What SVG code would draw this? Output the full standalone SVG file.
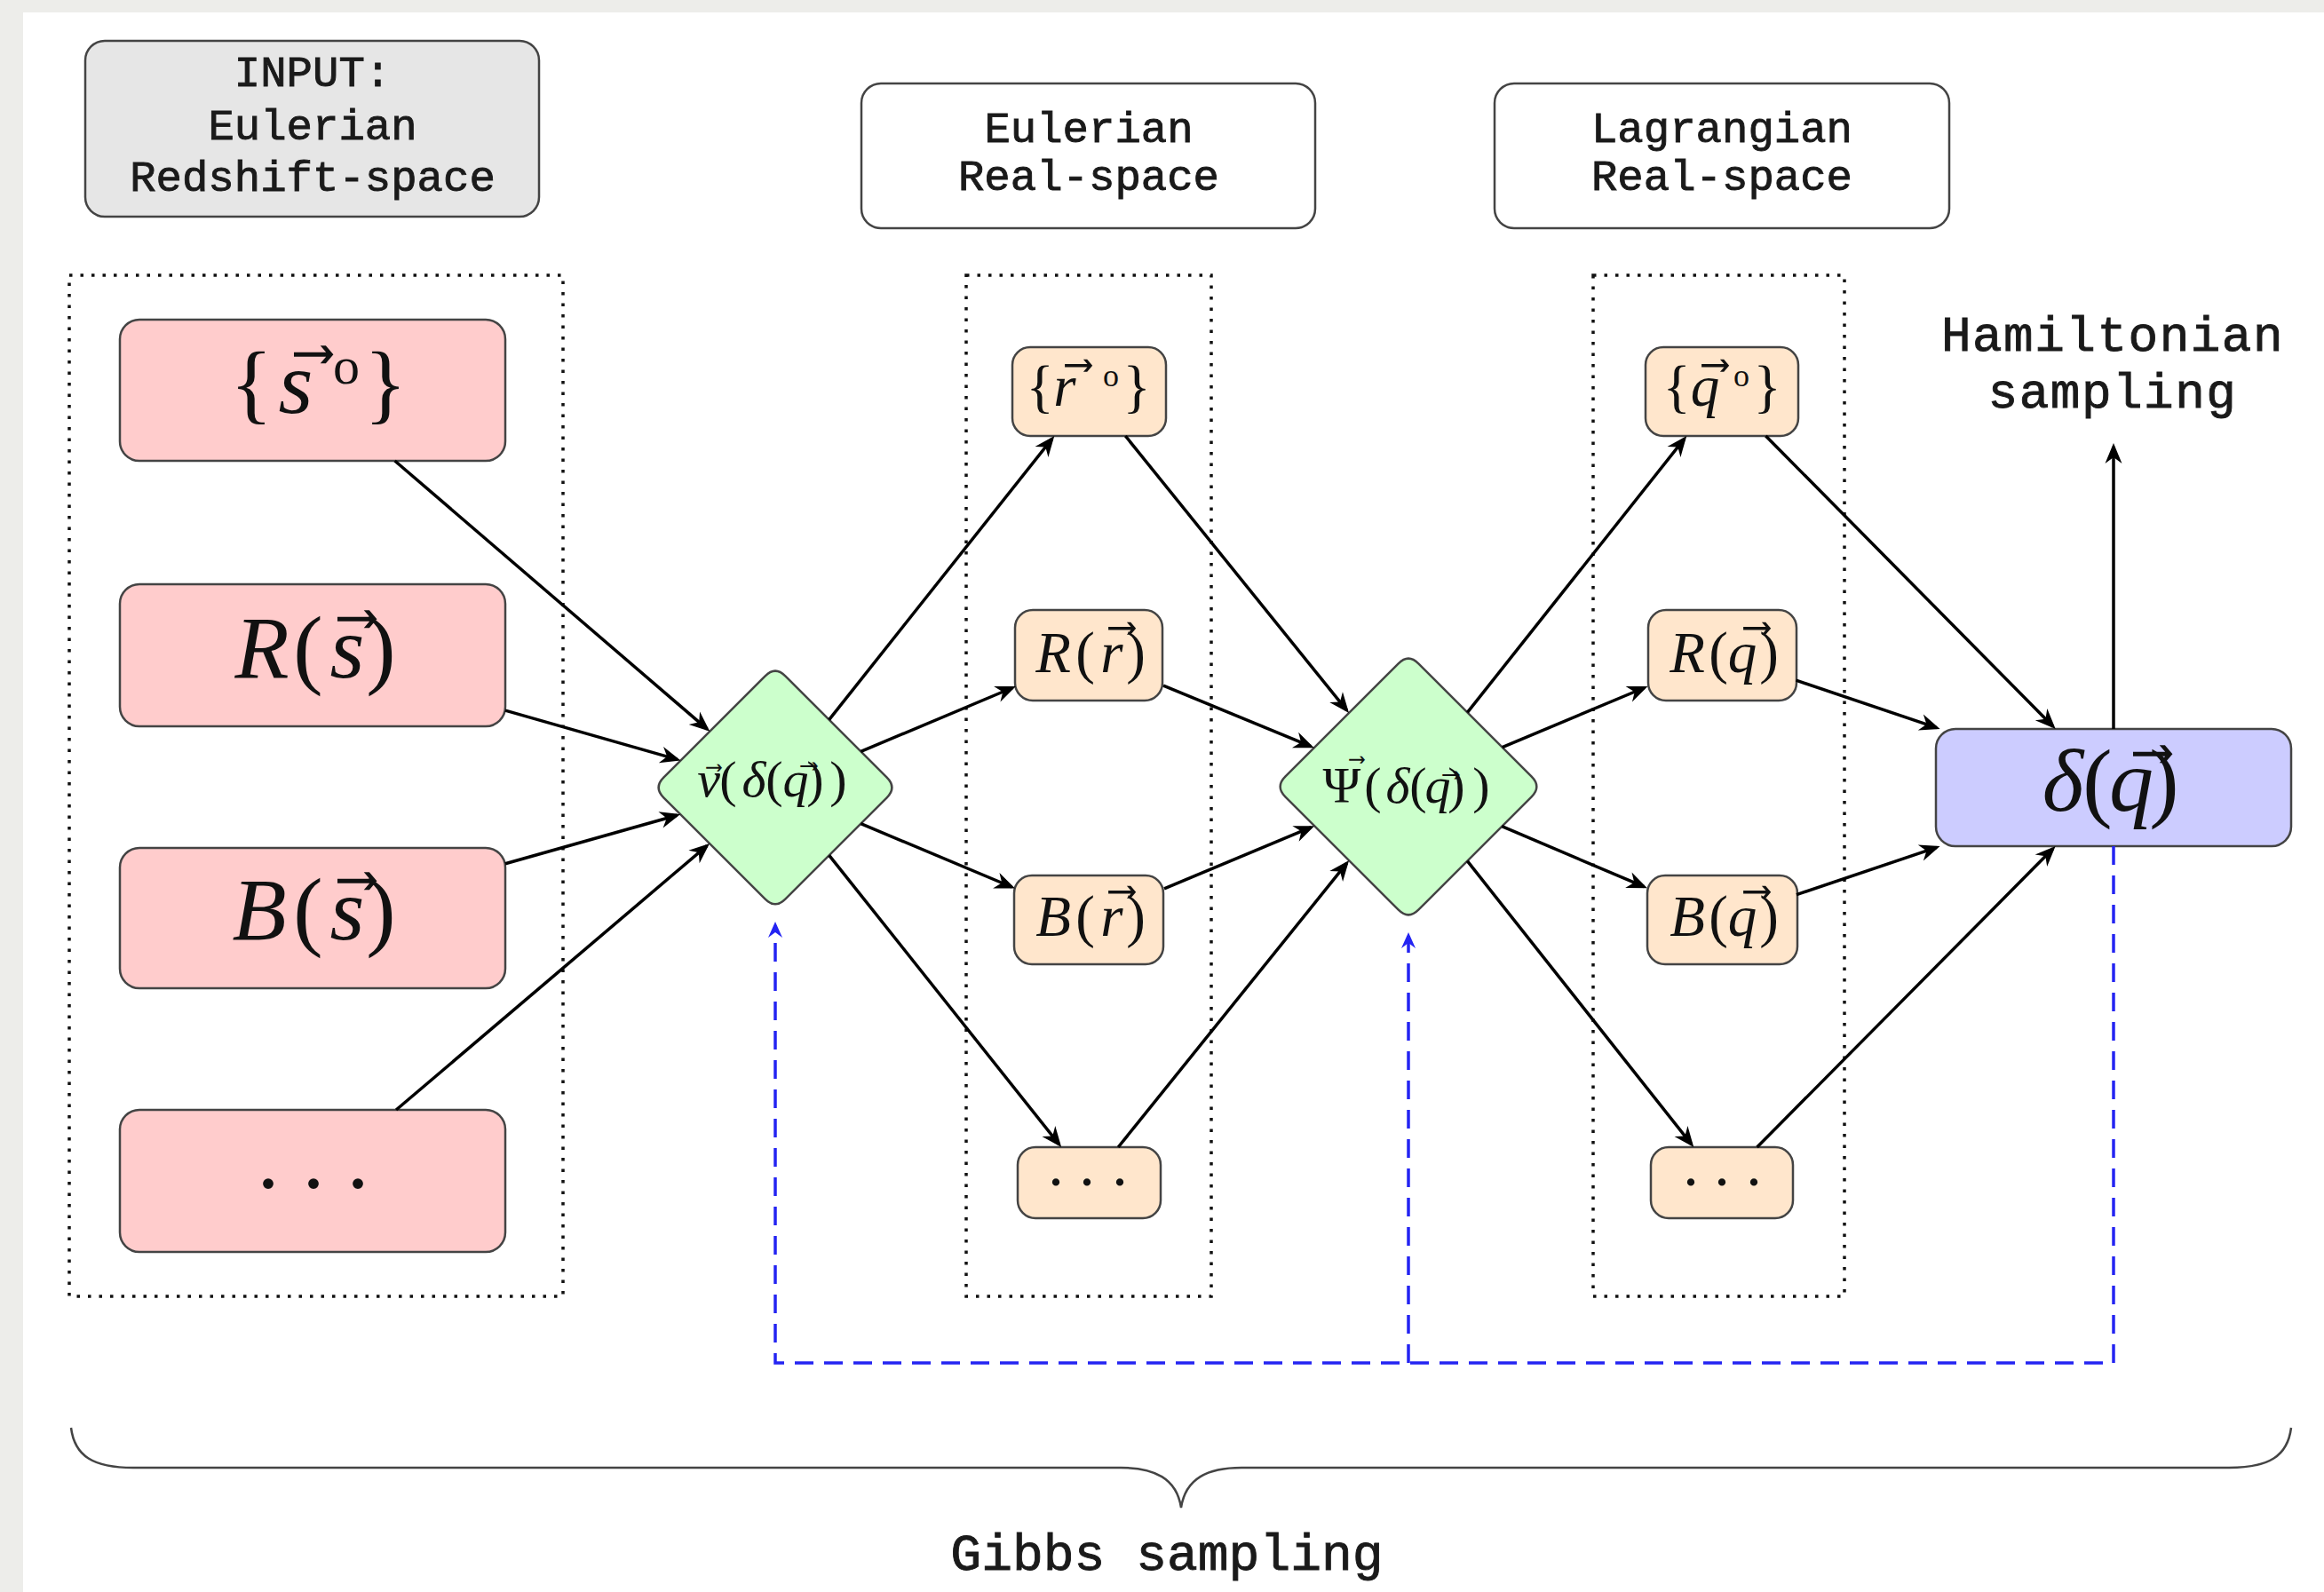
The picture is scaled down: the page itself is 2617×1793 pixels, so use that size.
<svg xmlns="http://www.w3.org/2000/svg" width="2617" height="1793" viewBox="0 0 2617 1793">
  <defs>
    <style>
      .tt { font-family: "Liberation Mono", "DejaVu Sans Mono", monospace; fill: #1a1a1a; stroke: #1a1a1a; stroke-width: 0.9; text-anchor: middle; }
      .m { font-family: "Liberation Serif", "DejaVu Serif", serif; fill: #111; text-anchor: middle; }
      .i { font-style: italic; }
      .acc { font-family: "DejaVu Sans", sans-serif; font-style: normal; }
      .box { stroke: #444; stroke-width: 2.5; }
      .red { fill: #ffcccc; }
      .org { fill: #ffe6cc; }
      .grn { fill: #ccffcc; }
      .blu { fill: #ccccff; }
      .gry { fill: #e6e6e6; }
      .wht { fill: #ffffff; }
      .frame { fill: none; stroke: #111; stroke-width: 3.5; stroke-dasharray: 3.5 9; }
      .edge { fill: none; stroke: #000; stroke-width: 3.5; marker-end: url(#ah); }
      .gibbs { fill: none; stroke: #2424f2; stroke-width: 3.5; stroke-dasharray: 21 12; }
    </style>
    <marker id="ah" viewBox="-26 -12 28 24" refX="-4" refY="0" markerWidth="28" markerHeight="24" markerUnits="userSpaceOnUse" orient="auto">
      <path d="M0,0 L-23,-9.5 L-16,0 L-23,9.5 Z" fill="#000"/>
    </marker>
    <marker id="ahb" viewBox="-26 -12 28 24" refX="-4" refY="0" markerWidth="28" markerHeight="24" markerUnits="userSpaceOnUse" orient="auto">
      <path d="M0,0 L-18,-8 L-12,0 L-18,8 Z" fill="#2424f2"/>
    </marker>
  </defs>

  <!-- page -->
  <rect width="2617" height="1793" fill="#ededea"/>
  <rect x="26" y="14" width="2591" height="1779" fill="#ffffff"/>

  <!-- column headers -->
  <g id="hdr-input">
    <rect class="box gry" x="96" y="46" width="511" height="198" rx="22"/>
    <text class="tt" font-size="49" x="352" y="97">INPUT:</text>
    <text class="tt" font-size="49" x="352" y="157">Eulerian</text>
    <text class="tt" font-size="49" x="352" y="215">Redshift-space</text>
  </g>
  <g id="hdr-eulerian">
    <rect class="box wht" x="970" y="94" width="511" height="163" rx="22"/>
    <text class="tt" font-size="49" x="1226" y="160">Eulerian</text>
    <text class="tt" font-size="49" x="1226" y="214">Real-space</text>
  </g>
  <g id="hdr-lagrangian">
    <rect class="box wht" x="1683" y="94" width="512" height="163" rx="22"/>
    <text class="tt" font-size="49" x="1939" y="160">Lagrangian</text>
    <text class="tt" font-size="49" x="1939" y="214">Real-space</text>
  </g>

  <!-- dotted column frames -->
  <g id="frames">
    <rect class="frame" x="78" y="310" width="556" height="1150"/>
    <rect class="frame" x="1088" y="310" width="276" height="1150"/>
    <rect class="frame" x="1794" y="310" width="283" height="1150"/>
  </g>

  <!-- redshift-space inputs -->
  <g id="s-obs">
    <rect class="box red" x="135" y="360" width="434" height="159" rx="22"/>
    <text class="m" font-size="100" y="465"><tspan x="283">{</tspan><tspan class="i" x="333">s</tspan><tspan class="acc" x="378" font-size="100">&#x20D7;</tspan><tspan x="390" y="432" font-size="60">o</tspan><tspan x="434" y="465">}</tspan></text>
  </g>
  <g id="R-s">
    <rect class="box red" x="135" y="658" width="434" height="160" rx="22"/>
    <text class="m" font-size="100" y="763"><tspan class="i" x="295">R</tspan><tspan x="347">(</tspan><tspan class="i" x="391">s</tspan><tspan class="acc" x="427" font-size="100">&#x20D7;</tspan><tspan x="429">)</tspan></text>
  </g>
  <g id="B-s">
    <rect class="box red" x="135" y="955" width="434" height="158" rx="22"/>
    <text class="m" font-size="100" y="1058"><tspan class="i" x="292">B</tspan><tspan x="347">(</tspan><tspan class="i" x="391">s</tspan><tspan class="acc" x="427" font-size="100">&#x20D7;</tspan><tspan x="429">)</tspan></text>
  </g>
  <g id="etc-s">
    <rect class="box red" x="135" y="1250" width="434" height="160" rx="22"/>
    <text class="m" font-size="100" x="302 353 403" y="1338">...</text>
  </g>

  <!-- velocity node -->
  <g id="vel">
    <path class="box grn" d="M861.7,761.3 Q873,750 884.3,761.3 L998.7,875.7 Q1010,887 998.7,898.3 L884.3,1012.7 Q873,1024 861.7,1012.7 L747.3,898.3 Q736,887 747.3,875.7 Z"/>
    <text class="m" font-size="58" y="897"><tspan class="i" x="798">v</tspan><tspan class="acc" x="814" y="891" font-size="40">&#x20D7;</tspan><tspan x="820" y="897">(</tspan><tspan class="i" x="849">δ</tspan><tspan x="872">(</tspan><tspan class="i" x="896">q</tspan><tspan class="acc" x="922" y="892" font-size="44">&#x20D7;</tspan><tspan x="918" y="897">)</tspan><tspan x="944">)</tspan></text>
  </g>

  <!-- Eulerian real-space -->
  <g id="r-obs">
    <rect class="box org" x="1140" y="391" width="173" height="100" rx="20"/>
    <text class="m" font-size="65" y="457"><tspan x="1171">{</tspan><tspan class="i" x="1199">r</tspan><tspan class="acc" x="1232" y="458" font-size="70">&#x20D7;</tspan><tspan x="1251" y="435" font-size="36">o</tspan><tspan x="1280" y="457">}</tspan></text>
  </g>
  <g id="R-r">
    <rect class="box org" x="1143" y="687" width="166" height="102" rx="20"/>
    <text class="m" font-size="65" y="757"><tspan class="i" x="1186">R</tspan><tspan x="1222">(</tspan><tspan class="i" x="1252">r</tspan><tspan class="acc" x="1281" y="754" font-size="70">&#x20D7;</tspan><tspan x="1279" y="757">)</tspan></text>
  </g>
  <g id="B-r">
    <rect class="box org" x="1142" y="986" width="168" height="100" rx="20"/>
    <text class="m" font-size="65" y="1054"><tspan class="i" x="1186">B</tspan><tspan x="1222">(</tspan><tspan class="i" x="1252">r</tspan><tspan class="acc" x="1281" y="1051" font-size="70">&#x20D7;</tspan><tspan x="1279" y="1054">)</tspan></text>
  </g>
  <g id="etc-r">
    <rect class="box org" x="1146" y="1292" width="161" height="80" rx="20"/>
    <text class="m" font-size="70" x="1189 1224 1261" y="1335">...</text>
  </g>

  <!-- displacement node -->
  <g id="disp">
    <path class="box grn" d="M1574.7,747.3 Q1586,736 1597.3,747.3 L1724.7,874.7 Q1736,886 1724.7,897.3 L1597.3,1024.7 Q1586,1036 1574.7,1024.7 L1447.3,897.3 Q1436,886 1447.3,874.7 Z"/>
    <text class="m" font-size="58" y="904"><tspan x="1511">Ψ</tspan><tspan class="acc" x="1538" y="882" font-size="40">&#x20D7;</tspan><tspan x="1546" y="904">(</tspan><tspan class="i" x="1574">δ</tspan><tspan x="1597">(</tspan><tspan class="i" x="1619">q</tspan><tspan class="acc" x="1645" y="902" font-size="44">&#x20D7;</tspan><tspan x="1640" y="904">)</tspan><tspan x="1668">)</tspan></text>
  </g>

  <!-- Lagrangian real-space -->
  <g id="q-obs">
    <rect class="box org" x="1853" y="391" width="172" height="100" rx="20"/>
    <text class="m" font-size="65" y="457"><tspan x="1888">{</tspan><tspan class="i" x="1920">q</tspan><tspan class="acc" x="1949" y="458" font-size="70">&#x20D7;</tspan><tspan x="1961" y="435" font-size="36">o</tspan><tspan x="1990" y="457">}</tspan></text>
  </g>
  <g id="R-q">
    <rect class="box org" x="1856" y="687" width="167" height="102" rx="20"/>
    <text class="m" font-size="65" y="757"><tspan class="i" x="1900">R</tspan><tspan x="1935">(</tspan><tspan class="i" x="1962">q</tspan><tspan class="acc" x="1996" y="754" font-size="70">&#x20D7;</tspan><tspan x="1992" y="757">)</tspan></text>
  </g>
  <g id="B-q">
    <rect class="box org" x="1855" y="986" width="169" height="100" rx="20"/>
    <text class="m" font-size="65" y="1054"><tspan class="i" x="1900">B</tspan><tspan x="1935">(</tspan><tspan class="i" x="1962">q</tspan><tspan class="acc" x="1996" y="1051" font-size="70">&#x20D7;</tspan><tspan x="1992" y="1054">)</tspan></text>
  </g>
  <g id="etc-q">
    <rect class="box org" x="1859" y="1292" width="160" height="80" rx="20"/>
    <text class="m" font-size="70" x="1904 1939 1975" y="1335">...</text>
  </g>

  <!-- density field -->
  <g id="delta">
    <rect class="box blu" x="2180" y="821" width="400" height="132" rx="22"/>
    <text class="m" font-size="100" y="913"><tspan class="i" x="2323">δ</tspan><tspan x="2362">(</tspan><tspan class="i" x="2400">q</tspan><tspan class="acc" x="2449" y="915" font-size="100">&#x20D7;</tspan><tspan x="2437" y="913">)</tspan></text>
  </g>

  <g id="hmc-label">
    <text class="tt" font-size="56" letter-spacing="1.5" x="2379" y="395">Hamiltonian</text>
    <text class="tt" font-size="56" letter-spacing="1.5" x="2379" y="459">sampling</text>
  </g>

  <!-- connectors -->
  <g id="connectors">
    <path class="edge" d="M444.6,519 L796.3,821.1"/>
    <path class="edge" d="M569,800.1 L762.7,855.4"/>
    <path class="edge" d="M569,972.8 L762.3,918.2"/>
    <path class="edge" d="M446.1,1250 L796,952.6"/>
    <path class="edge" d="M933.6,810.6 L1184.8,494.1"/>
    <path class="edge" d="M969.4,846.4 L1140.3,774.5"/>
    <path class="edge" d="M969.4,927.6 L1139.3,999"/>
    <path class="edge" d="M933.7,963.3 L1192.7,1288.9"/>
    <path class="edge" d="M1267.3,491 L1516.5,799.9"/>
    <path class="edge" d="M1310,772.2 L1476.1,840.7"/>
    <path class="edge" d="M1311,1000.9 L1476.5,931.7"/>
    <path class="edge" d="M1259.2,1292 L1516.6,972.2"/>
    <path class="edge" d="M1652.4,802.4 L1896.8,494.1"/>
    <path class="edge" d="M1691.7,841.7 L1851.8,774.5"/>
    <path class="edge" d="M1691.3,930.7 L1851.3,998.7"/>
    <path class="edge" d="M1652.3,969.7 L1904.8,1288.9"/>
    <path class="edge" d="M1988.4,491 L2311.9,818.2"/>
    <path class="edge" d="M2022.5,766.2 L2180.8,819.7"/>
    <path class="edge" d="M2023,1007.6 L2180.8,954.3"/>
    <path class="edge" d="M1978.6,1292 L2311.8,955.8"/>
    <path class="edge" d="M2380,821 L2380,503"/>
    <!-- Gibbs feedback loop -->
    <path class="gibbs" d="M2380,953 V1535 H873 V1042" marker-end="url(#ahb)"/>
    <path class="gibbs" d="M1586,1535 V1054" marker-end="url(#ahb)"/>
  </g>

  <!-- Gibbs brace -->
  <g id="gibbs-brace">
    <path d="M80,1608 C84,1640 105,1653 150,1653 L1262,1653 C1300,1653 1325,1665 1330,1698 C1335,1665 1360,1653 1398,1653 L2510,1653 C2555,1653 2576,1640 2580,1608" fill="none" stroke="#444" stroke-width="2.5"/>
    <text class="tt" font-size="58" x="1314" y="1768">Gibbs sampling</text>
  </g>
</svg>
